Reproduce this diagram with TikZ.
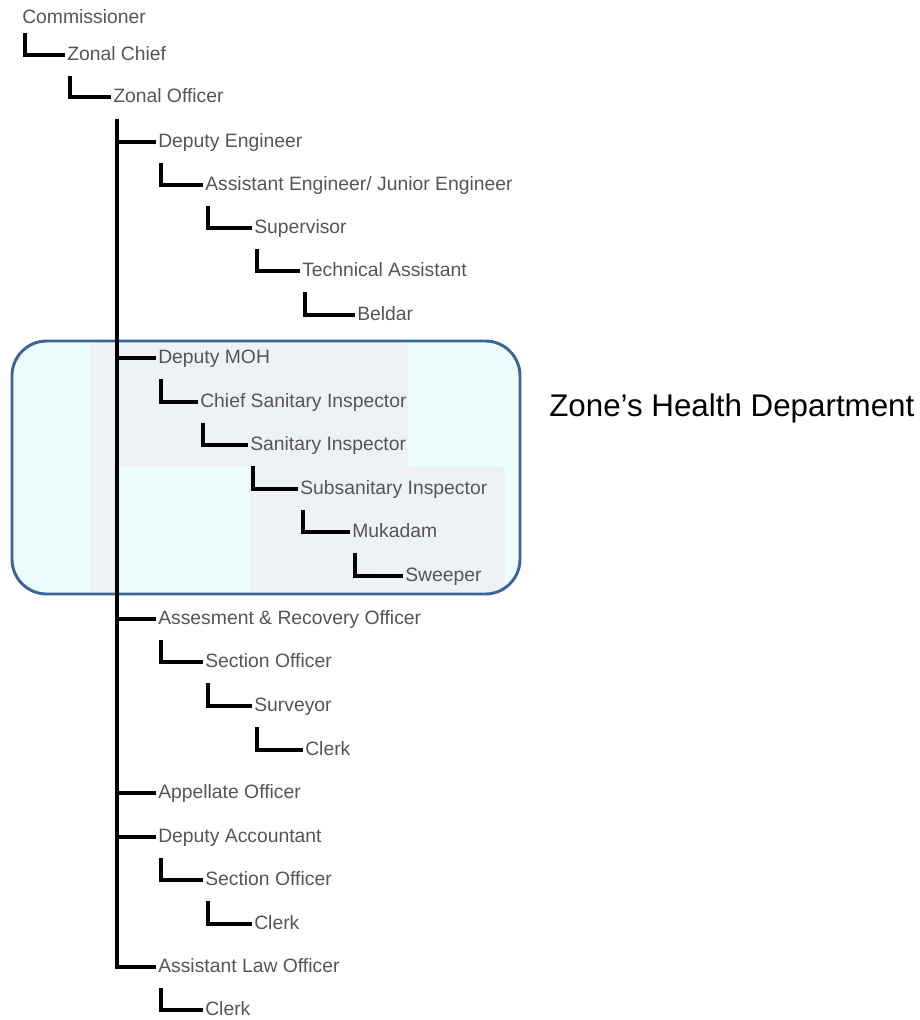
\documentclass[tikz,border=0pt]{standalone}
\usepackage{fontspec}
\setmainfont{Liberation Sans}
\usetikzlibrary{positioning}

\definecolor{postgray}{HTML}{555555}
\definecolor{healthfill}{HTML}{ECFDFE}
\definecolor{healthpatch}{HTML}{EEF2F7}
\definecolor{healthedge}{HTML}{3C6494}

\tikzstyle{post} = [anchor=west, inner xsep=1.5pt, inner ysep=0pt, text height=10.5pt, text depth=2.5pt, text=postgray, font=\fontsize{14.5}{17}\selectfont]
\tikzstyle{elbow} = [line width=3.5pt, black]
\tikzstyle{deptlabel} = [anchor=west, inner sep=0pt, font=\fontsize{23.5}{28}\selectfont]

\begin{document}
\begin{tikzpicture}[x=0.75pt, y=-0.75pt]
	\useasboundingbox (0,0) rectangle (920,1020);
	% Health department box
	\fill[healthfill, rounded corners=26pt] (12,341) rectangle (520,594);
	\fill[healthpatch] (90,343) rectangle (408,467);
	\fill[healthpatch] (90,467) rectangle (117,592);
	\fill[healthpatch] (249,467) rectangle (505,592);
	\draw[healthedge, line width=2.2pt, rounded corners=26pt] (12,341) rectangle (520,594);
	\node [deptlabel] (health) at (549,408) {Zone’s Health Department};
	% Place nodes
	\node [post] (comm) at (20,18) {Commissioner};
	\node [post] (zchief) at (65,55) {Zonal Chief};
	\node [post] (zoff) at (111,97) {Zonal Officer};
	\node [post] (deng) at (156,142) {Deputy Engineer};
	\node [post] (aeng) at (203,185) {Assistant Engineer/ Junior Engineer};
	\node [post] (sup) at (252,228) {Supervisor};
	\node [post] (tech) at (300,271) {Technical Assistant};
	\node [post] (beldar) at (355,315) {Beldar};
	\node [post] (dmoh) at (156,358) {Deputy MOH};
	\node [post] (csi) at (198,402) {Chief Sanitary Inspector};
	\node [post] (si) at (248,445) {Sanitary Inspector};
	\node [post] (ssi) at (298,489) {Subsanitary Inspector};
	\node [post] (muk) at (350,532) {Mukadam};
	\node [post] (sweep) at (403,576) {Sweeper};
	\node [post] (aro) at (156,619) {Assesment \& Recovery Officer};
	\node [post] (soa) at (203,662) {Section Officer};
	\node [post] (surv) at (252,706) {Surveyor};
	\node [post] (clerka) at (303,750) {Clerk};
	\node [post] (appel) at (156,793) {Appellate Officer};
	\node [post] (dacc) at (156,837) {Deputy Accountant};
	\node [post] (sob) at (203,880) {Section Officer};
	\node [post] (clerkb) at (252,924) {Clerk};
	\node [post] (alo) at (156,967) {Assistant Law Officer};
	\node [post] (clerkc) at (203,1010) {Clerk};
	\coordinate (trunk) at ([shift={(6,13)}]zoff.south west);
	% Draw edges
	\draw [elbow] ([shift={(5,6)}]comm.south west) |- (zchief.west);
	\draw [elbow] ([shift={(5,12)}]zchief.south west) |- (zoff.west);
	\draw [elbow] (trunk) |- (alo.west);
	\draw [elbow] (trunk |- deng.west) -- (deng.west);
	\draw [elbow] (trunk |- dmoh.west) -- (dmoh.west);
	\draw [elbow] (trunk |- aro.west) -- (aro.west);
	\draw [elbow] (trunk |- appel.west) -- (appel.west);
	\draw [elbow] (trunk |- dacc.west) -- (dacc.west);
	\draw [elbow] ([shift={(5,12)}]deng.south west) |- (aeng.west);
	\draw [elbow] ([shift={(5,12)}]aeng.south west) |- (sup.west);
	\draw [elbow] ([shift={(5,12)}]sup.south west) |- (tech.west);
	\draw [elbow] ([shift={(5,12)}]tech.south west) |- (beldar.west);
	\draw [elbow] ([shift={(5,12)}]dmoh.south west) |- (csi.west);
	\draw [elbow] ([shift={(5,12)}]csi.south west) |- (si.west);
	\draw [elbow] ([shift={(5,12)}]si.south west) |- (ssi.west);
	\draw [elbow] ([shift={(5,12)}]ssi.south west) |- (muk.west);
	\draw [elbow] ([shift={(5,12)}]muk.south west) |- (sweep.west);
	\draw [elbow] ([shift={(5,12)}]aro.south west) |- (soa.west);
	\draw [elbow] ([shift={(5,12)}]soa.south west) |- (surv.west);
	\draw [elbow] ([shift={(5,12)}]surv.south west) |- (clerka.west);
	\draw [elbow] ([shift={(5,12)}]dacc.south west) |- (sob.west);
	\draw [elbow] ([shift={(5,12)}]sob.south west) |- (clerkb.west);
	\draw [elbow] ([shift={(5,12)}]alo.south west) |- (clerkc.west);
\end{tikzpicture}
\end{document}
